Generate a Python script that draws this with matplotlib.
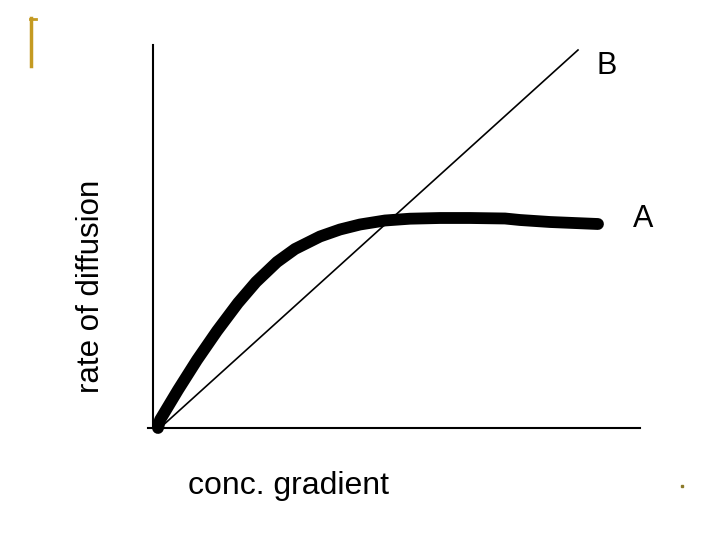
import matplotlib.pyplot as plt
from matplotlib.lines import Line2D

plt.rcParams['font.family'] = ['Liberation Sans', 'DejaVu Sans']

# curve A (thick)
conc_a = [5, 7, 25, 44, 64, 85, 103, 124, 142, 167, 187, 207, 232, 257,
          287, 317, 352, 367, 397, 445]
rate_a = [0, 8, 38, 68, 97, 125, 146, 166, 179, 191.5, 198.5, 203.5, 207.5, 209.3,
          210, 210, 209.5, 208, 206, 204]

# line B (thin, straight)
conc_b = [7, 425]
rate_b = [0, 378]

gold = '#C49A22'

fig = plt.figure(figsize=(7.2, 5.4), dpi=100)
ax = fig.add_axes([148 / 720, 112 / 540, 492 / 720, 383 / 540])
ax.set_xlim(-5, 487)
ax.set_ylim(0, 383)

ax.plot(conc_b, rate_b, color='black', linewidth=1.2, clip_on=False)
ax.plot(conc_a, rate_a, color='black', linewidth=8.5, solid_capstyle='round',
        solid_joinstyle='round', clip_on=False)

ax.text(454, 362, 'B', fontsize=22, ha='center', va='center')
ax.text(490, 209, 'A', fontsize=22, ha='center', va='center')

ax.spines['top'].set_visible(False)
ax.spines['right'].set_visible(False)
ax.spines['left'].set_position(('data', 0))
ax.spines['left'].set_linewidth(1.5)
ax.spines['bottom'].set_linewidth(1.5)
ax.set_xticks([])
ax.set_yticks([])

fig.text(91 / 720, 1 - 286 / 540, 'rate of diffusion', rotation=90,
         fontsize=22.5, ha='center', va='center')
fig.text(288 / 720, 1 - 486 / 540, 'conc. gradient',
         fontsize=23, ha='center', va='center')

# small yellow bracket top-left and dot bottom-right
fig.add_artist(Line2D([31.5 / 720, 31.5 / 720], [1 - 18 / 540, 1 - 66 / 540],
                      color=gold, linewidth=2.5))
fig.add_artist(Line2D([30 / 720, 36 / 720], [1 - 18.5 / 540, 1 - 18.5 / 540],
                      color=gold, linewidth=2.0))
fig.add_artist(Line2D([682 / 720], [1 - 486 / 540], marker='s', markersize=2,
                      color='#8C7A2A', linestyle='none'))

fig.savefig('out.png', dpi=100)
